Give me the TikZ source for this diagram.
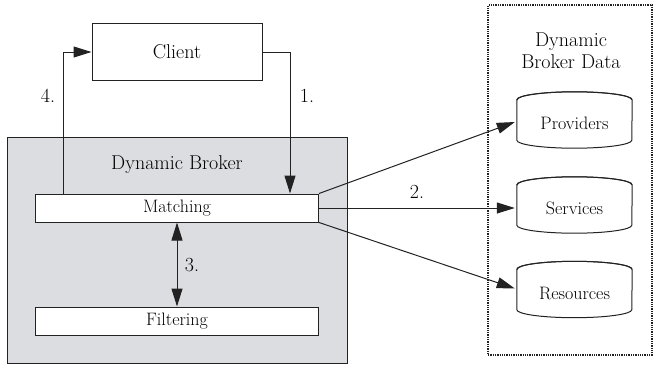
\documentclass[tikz,border=0pt]{standalone}
\usetikzlibrary{arrows.meta,calc}
\definecolor{brokergray}{HTML}{DCDDE0}
\definecolor{linegray}{HTML}{222222}
\tikzset{
  lbl/.style={font=\rmfamily\fontsize{20}{24}\selectfont},
  sublbl/.style={font=\rmfamily\fontsize{18}{21}\selectfont},
  whitebox/.style={draw=linegray, fill=white, line width=1pt, inner sep=0pt},
  conn/.style={draw=linegray, line width=1pt, -{Triangle[length=18pt,width=11pt]}},
  biconn/.style={draw=linegray, line width=1pt, {Triangle[length=18pt,width=11pt]}-{Triangle[length=18pt,width=11pt]}},
  cylslot/.style={minimum width=115pt, minimum height=56pt, inner sep=0pt},
}
\newcommand{\cylpath}[1]{%
  \draw[linegray, line width=1pt, fill=white]
    ($(#1.north west)+(0,8)$) -- ($(#1.south west)+(0,-8)$)
    arc[start angle=180, end angle=360, x radius=57.5, y radius=-8]
    -- ($(#1.north east)+(0,8)$)
    arc[start angle=0, end angle=180, x radius=57.5, y radius=-8] -- cycle;
  \draw[linegray, line width=1pt]
    ($(#1.north west)+(0,8)$) arc[start angle=180, end angle=360, x radius=57.5, y radius=8];
}
\begin{document}
\begin{tikzpicture}[x=1pt,y=-1pt]
\useasboundingbox (0,0) rectangle (653,365);
% dotted data area
\node[draw=linegray, densely dotted, line width=1.3pt, minimum width=164pt, minimum height=350pt, inner sep=0pt] (data) at (570,180) {};
\node[lbl, align=center, inner sep=0pt] (datalbl) at (571,51) {Dynamic\\[-2pt]Broker Data};
% broker
\node[draw=linegray, fill=brokergray, line width=1pt, minimum width=340pt, minimum height=226pt, inner sep=0pt] (broker) at (177,250) {};
\node[lbl, inner sep=0pt] (brokerlbl) at (177,165) {Dynamic Broker};
\node[whitebox, minimum width=283pt, minimum height=28pt, sublbl] (match) at (177,208) {Matching};
\node[whitebox, minimum width=283pt, minimum height=28pt, sublbl] (filter) at (177,321) {Filtering};
% client
\node[whitebox, minimum width=170pt, minimum height=57pt, lbl] (client) at (177,52) {Client};
% cylinders
\node[cylslot] (prov) at (574.5,120) {};
\node[cylslot] (serv) at (574.5,205) {};
\node[cylslot] (res) at (574.5,289.5) {};
\cylpath{prov}
\cylpath{serv}
\cylpath{res}
\node[sublbl, inner sep=0pt] (provlbl) at (574.5,123) {Providers};
\node[sublbl, inner sep=0pt] (servlbl) at (574.5,208) {Services};
\node[sublbl, inner sep=0pt] (reslbl) at (574.5,293) {Resources};
% connectors
\coordinate (c4) at (63,52);
\coordinate (c1) at (290,52);
\draw[conn] (match.north west -| c4) -- (c4) -- (client.west);
\draw[conn] (client.east) -- (c1) -- (match.north west -| c1);
\draw[biconn] (match.south) -- (filter.north);
\draw[conn] (match.north east) -- ($(prov.west)+(-2,2)$);
\draw[conn] (match.east) -- ($(serv.west)+(-2,3)$);
\draw[conn] (match.south east) -- ($(res.west)+(-2,-1)$);
% labels
\node[lbl, inner sep=0pt] (l4) at (48,96) {4.};
\node[lbl, inner sep=0pt] (l1) at (307,96) {1.};
\node[lbl, inner sep=0pt] (l3) at (192,265) {3.};
\node[lbl, inner sep=0pt] (l2) at (417,192) {2.};
\end{tikzpicture}
\end{document}
